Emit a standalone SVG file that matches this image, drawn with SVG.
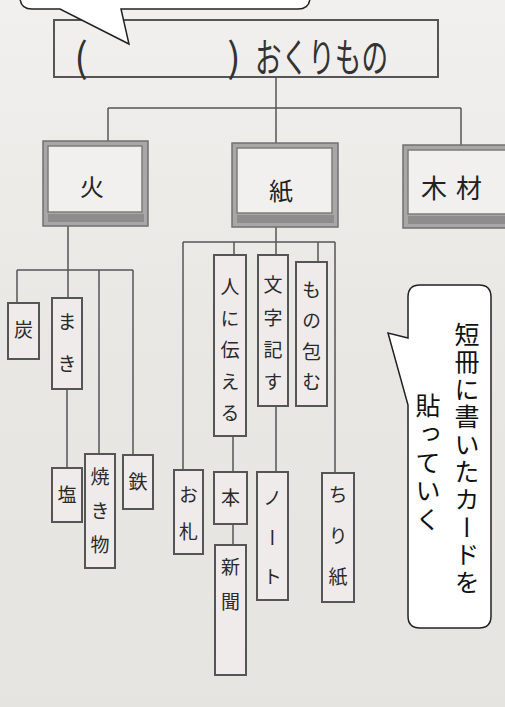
<svg xmlns="http://www.w3.org/2000/svg" width="505" height="707" viewBox="0 0 505 707">
<defs>
<linearGradient id="bg" x1="0" y1="0" x2="0" y2="1">
<stop offset="0" stop-color="#f1f0ee"/>
<stop offset="0.5" stop-color="#e9e7e3"/>
<stop offset="1" stop-color="#e6e4e0"/>
</linearGradient>
<style>
.ln{stroke:#555;stroke-width:1.5;fill:none}
.card{fill:#efebeb;stroke:#555;stroke-width:2}
.frame{fill:#a9a6a6;stroke:#707070;stroke-width:1.5}
.inner{fill:#f2efef;stroke:#7d7d7d;stroke-width:1.5}
.band{fill:#8e8c8c}
.big{font-family:"Noto Sans CJK JP",sans-serif;font-size:24px;fill:#222;dominant-baseline:central}
.v{font-family:"Noto Sans CJK JP",sans-serif;font-size:19px;fill:#2a2a2a;writing-mode:vertical-rl}
.title{font-family:"Noto Sans CJK JP",sans-serif;font-size:40px;fill:#333;dominant-baseline:central}
.bub{fill:#fff;stroke:#222;stroke-width:1.5}
.bt{font-family:"Noto Sans CJK JP",sans-serif;font-size:25px;fill:#111;writing-mode:vertical-rl}
</style>
</defs>
<rect x="0" y="0" width="505" height="707" fill="url(#bg)"/>

<g id="connectors">
<path class="ln" d="M276 77V108M108 108H461M108 108V141M276 108V143M461 108V145"/>
<path class="ln" d="M68 226V298M17 270H133M17 270V303M99 270V454M133 270V455M67 389V468"/>
<path class="ln" d="M276 227V255M183 242H335M183 242V470M234 242V255M318 242V262M335 242V473M276 406V472M233 436V472M233 524V545"/>
</g>

<g id="title">
<rect x="54" y="20" width="384" height="57" fill="none" stroke="#555" stroke-width="2"/>
<text class="title" x="81" y="55" text-anchor="middle">(</text>
<text class="title" x="234" y="55" text-anchor="middle">)</text>
<text class="title" x="255" y="55" textLength="133" lengthAdjust="spacingAndGlyphs">おくりもの</text>
</g>

<g id="node-fire">
<rect class="frame" x="43" y="141" width="105" height="85"/>
<rect class="inner" x="48" y="146" width="94" height="66"/>
<rect class="band" x="48" y="214" width="96" height="8"/>
<text class="big" x="92" y="185" text-anchor="middle">火</text>
</g>
<g id="node-paper">
<rect class="frame" x="232" y="143" width="106" height="84"/>
<rect class="inner" x="237" y="148" width="95" height="65"/>
<rect class="band" x="237" y="215" width="97" height="8"/>
<text class="big" x="281" y="189" text-anchor="middle">紙</text>
</g>
<g id="node-wood">
<rect class="frame" x="403" y="145" width="110" height="83"/>
<rect class="inner" x="408" y="150" width="105" height="64"/>
<rect class="band" x="408" y="216" width="105" height="8"/>
<text class="big" x="421 447 456" y="186" style="font-size:26px">木 材</text>
</g>

<g id="node-sumi"><rect class="card" x="8" y="303" width="31" height="56"/><text class="v" x="23.5" y="320.5">炭</text></g>
<g id="node-maki"><rect class="card" x="52" y="298" width="30" height="91"/><text class="v" x="67" y="312.5" style="letter-spacing:23px">まき</text></g>
<g id="node-hitonitsutaeru"><rect class="card" x="214" y="255" width="32" height="181"/><text class="v" x="230" y="277.5" style="letter-spacing:12.5px">人に伝える</text></g>
<g id="node-mojishirusu"><rect class="card" x="258" y="255" width="30" height="151"/><text class="v" x="273" y="275.5" style="letter-spacing:13.3px">文字記す</text></g>
<g id="node-monotsutsumu"><rect class="card" x="296" y="262" width="31" height="144"/><text class="v" x="311.5" y="280.5" style="letter-spacing:11.7px">もの包む</text></g>
<g id="node-shio"><rect class="card" x="52" y="468" width="30" height="54"/><text class="v" x="67" y="485.5">塩</text></g>
<g id="node-yakimono"><rect class="card" x="85" y="454" width="30" height="114"/><text class="v" x="100" y="467.5" style="letter-spacing:15px">焼き物</text></g>
<g id="node-tetsu"><rect class="card" x="123" y="455" width="30" height="54"/><text class="v" x="138" y="472.5">鉄</text></g>
<g id="node-osatsu"><rect class="card" x="174" y="470" width="29" height="84"/><text class="v" x="188.5" y="485.5" style="letter-spacing:18px">お札</text></g>
<g id="node-hon"><rect class="card" x="214" y="472" width="33" height="52"/><text class="v" x="230.5" y="488.5">本</text></g>
<g id="node-shinbun"><rect class="card" x="215" y="545" width="31" height="130"/><text class="v" x="230.5" y="557.5" style="letter-spacing:16px">新聞</text></g>
<g id="node-note"><rect class="card" x="257" y="472" width="31" height="128"/><text class="v" x="272.5" y="488.5" style="letter-spacing:20.5px">ノート</text></g>
<g id="node-chirigami"><rect class="card" x="322" y="473" width="32" height="129"/><text class="v" x="338" y="485.5" style="letter-spacing:22px">ちり紙</text></g>

<g id="bubble-top">
<path class="bub" d="M20 -30V-3Q20 9 32 9H60L129 44L121 9H298Q310 9 310 -3V-30Z"/>
</g>

<g id="bubble-right">
<path class="bub" d="M420 285H479Q491 285 491 297V616Q491 628 479 628H420Q408 628 408 616V405L388 333L408 338V297Q408 285 420 285Z"/>
<text class="bt" x="467" y="321.5" style="letter-spacing:2.6px">短冊に書いたカードを</text>
<text class="bt" x="428" y="392.5" style="letter-spacing:3.5px">貼っていく</text>
</g>
</svg>
